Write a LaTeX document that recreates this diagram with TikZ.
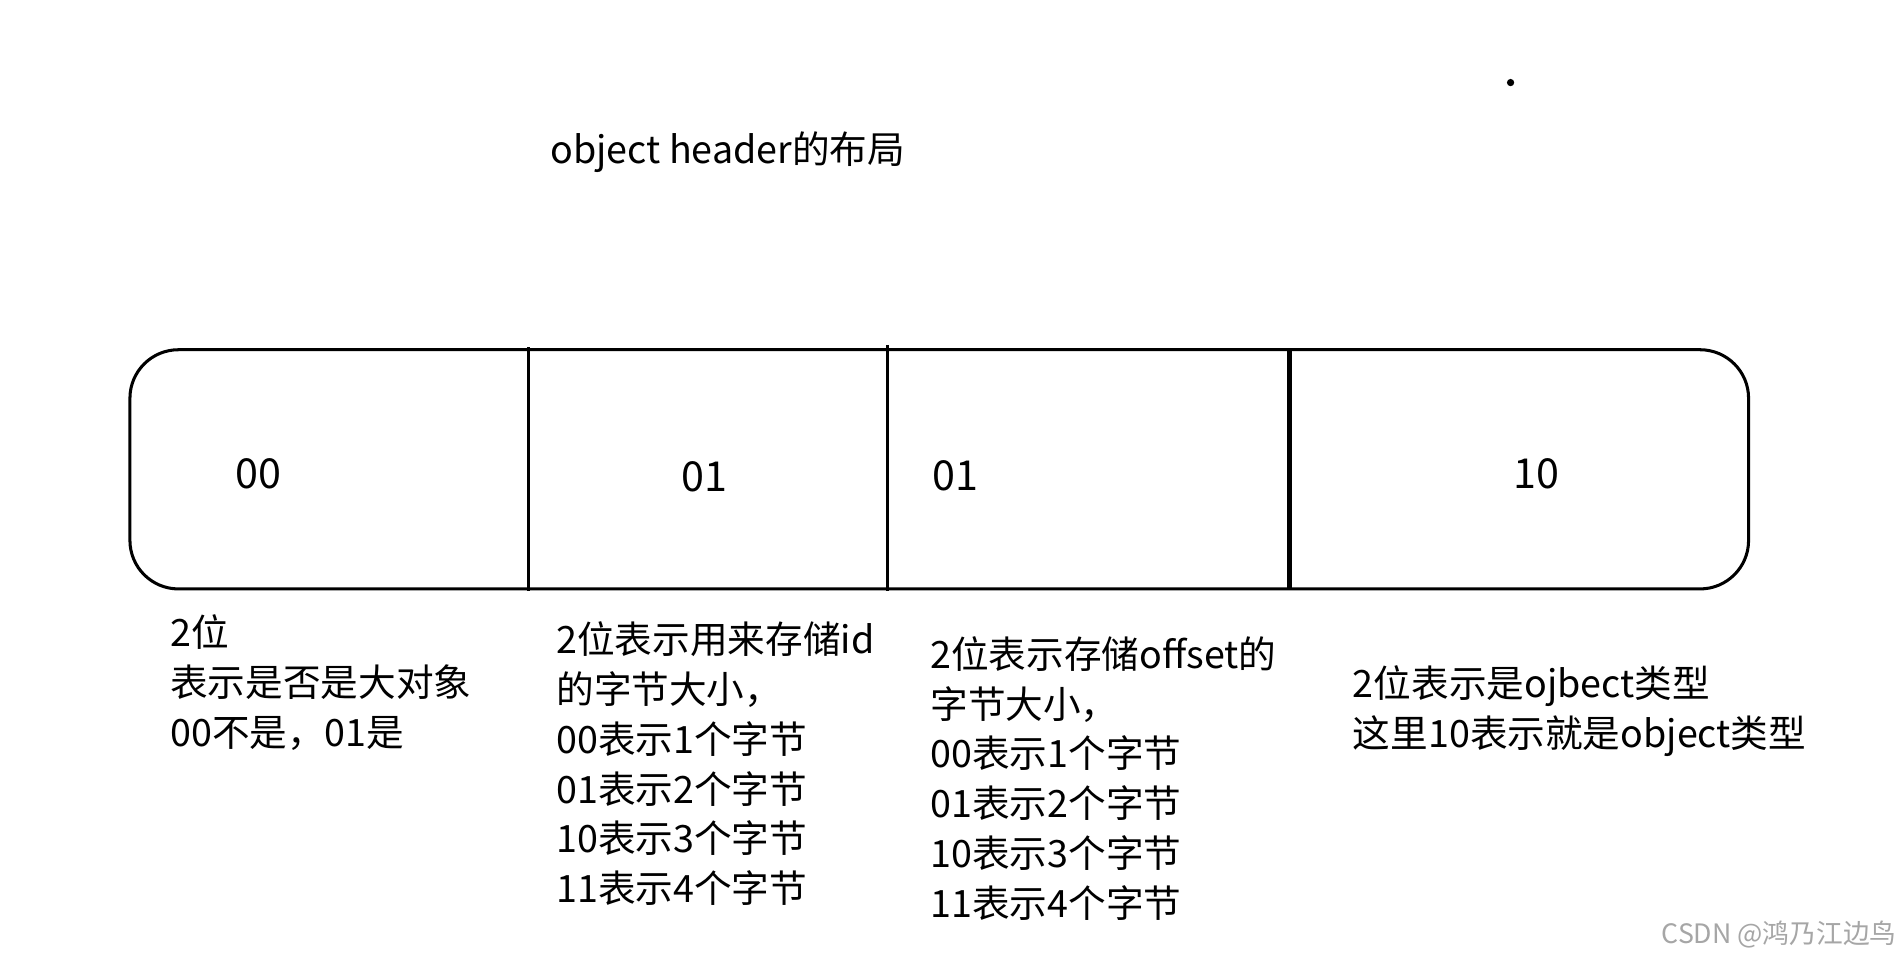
\documentclass[tikz,border=0pt]{standalone}
\usepackage{fontspec}
\setmainfont{Noto Sans CJK SC}
\begin{document}
\begin{tikzpicture}[x=1pt,y=-1pt,
  lbl/.style={font=\fontsize{34}{38}\selectfont,inner sep=0pt},
  txt/.style={font=\fontsize{31}{41}\selectfont,inner sep=0pt,anchor=north west,align=left}]
\useasboundingbox (0,0) rectangle (1568,795);
\fill[white] (0,0) rectangle (1568,795);
\draw[line width=2.5pt,rounded corners=40pt] (107,288) rectangle (1440,485);
\draw[line width=2.5pt] (435,286) -- (435,487);
\draw[line width=2.5pt] (731,284) -- (731,487);
\draw[line width=3.5pt] (1062,288) -- (1062,485);
\node[lbl] (a) at (213,390) {00};
\node[lbl] (b) at (580,393) {01};
\node[lbl] (c) at (787,392) {01};
\node[lbl] (d) at (1265,390) {10};
\node[lbl,font=\fontsize{31}{36}\selectfont,anchor=west] (t) at (453,125) {object header的布局};
\fill (1244,68) circle (3pt);
\node[txt] (ta) at (140,506) {2位\\表示是否是大对象\\00不是，01是};
\node[txt] (tb) at (458,512) {2位表示用来存储id\\的字节大小，\\00表示1个字节\\01表示2个字节\\10表示3个字节\\11表示4个字节};
\node[txt] (tc) at (766,524) {2位表示存储offset的\\字节大小，\\00表示1个字节\\01表示2个字节\\10表示3个字节\\11表示4个字节};
\node[txt] (td) at (1114,548) {2位表示是ojbect类型\\这里10表示就是object类型};
\node[font=\fontsize{22}{26}\selectfont,text=black!35,anchor=east,inner sep=0pt] (w) at (1562,770) {CSDN @鸿乃江边鸟};
\end{tikzpicture}
\end{document}
